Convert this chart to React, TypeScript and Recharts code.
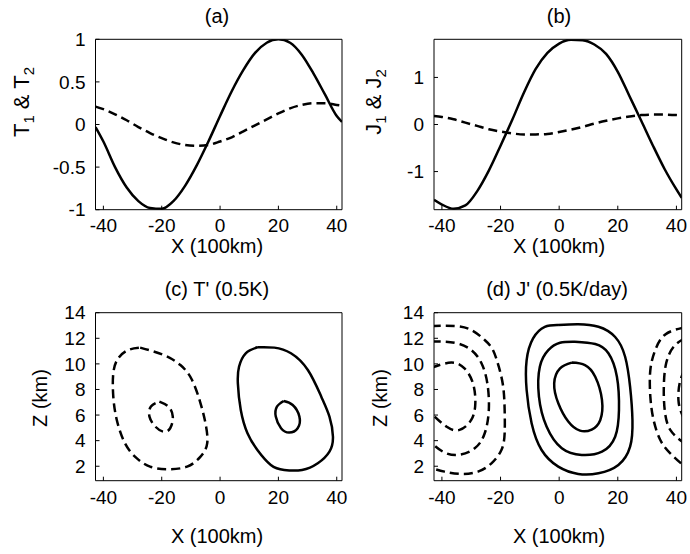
import React from 'react';
import { LineChart, Line, XAxis, YAxis } from 'recharts';

const FONT = '"Liberation Sans", Arial, Helvetica, sans-serif';

// ---------- shared axes ----------
const xTicks = [-40, -20, 0, 20, 40];
const xDomain: [number, number] = [-42.7, 41.8];
const tTicks = [-1, -0.5, 0, 0.5, 1];
const jTicks = [-1, 0, 1];
const zTicks = [2, 4, 6, 8, 10, 12, 14];

// ---------- panel (a) & (b) line data ----------
const xLine = [-42.7, -40, -36, -32, -28, -24, -20, -16, -12, -8, -4, 0, 4, 8, 12, 16, 20, 24, 28, 32, 36, 40, 41.8];
const t1 = [-0.03, -0.2, -0.5, -0.74, -0.9, -0.98, -0.99, -0.9, -0.72, -0.48, -0.2, 0.1, 0.39, 0.64, 0.84, 0.96, 1.0, 0.96, 0.82, 0.6, 0.35, 0.1, 0.03];
const t2 = [0.21, 0.18, 0.12, 0.05, -0.03, -0.1, -0.16, -0.21, -0.24, -0.25, -0.24, -0.2, -0.15, -0.08, -0.01, 0.06, 0.13, 0.19, 0.23, 0.25, 0.25, 0.23, 0.22];
const j1 = [-1.6, -1.7, -1.79, -1.72, -1.42, -0.98, -0.45, 0.1, 0.68, 1.18, 1.52, 1.72, 1.8, 1.79, 1.7, 1.5, 1.12, 0.6, 0.08, -0.45, -0.95, -1.38, -1.56];
const j2 = [0.18, 0.16, 0.11, 0.04, -0.03, -0.1, -0.15, -0.19, -0.21, -0.21, -0.2, -0.16, -0.11, -0.05, 0.02, 0.08, 0.13, 0.17, 0.2, 0.21, 0.21, 0.2, 0.19];

// ---------- panel (c) contours: [x, z] ----------
type P = [number, number];
const cNegOuter: P[] = [
  [-27.4, 11.27], [-19.4, 10.7], [-13.6, 9.91], [-9.6, 8.74], [-6.7, 6.92], [-5.0, 5.36], [-4.4, 3.8],
  [-6.7, 2.75], [-11.3, 1.97], [-18.2, 1.77], [-24, 1.97], [-28.6, 2.63], [-32.6, 3.8], [-35.4, 5.62],
  [-36.6, 7.44], [-36.6, 9.27], [-34.9, 10.44], [-31.4, 11.09], [-27.4, 11.27],
];
const cNegInner: P[] = [
  [-20.8, 7.05], [-17.7, 6.66], [-16.2, 5.88], [-17.1, 4.97], [-19.4, 4.7], [-22.2, 5.1], [-24.2, 5.88],
  [-23.7, 6.66], [-20.8, 7.05],
];
const cPosOuter: P[] = [
  [12.8, 11.3], [18.6, 11.27], [24.3, 10.83], [30.1, 9.52], [34.7, 7.44], [37.5, 5.88], [38.7, 4.31],
  [37.5, 3.14], [33.5, 2.23], [28.1, 1.71], [22.0, 1.71], [17.4, 2.1], [12.8, 3.27], [9.4, 4.58], [7.1, 6.4],
  [6.1, 8.48], [6.5, 9.78], [8.8, 10.83], [12.8, 11.3],
];
const cPosInner: P[] = [
  [21.8, 7.1], [24.9, 6.79], [27.2, 5.88], [26.6, 4.97], [23.7, 4.63], [20.9, 4.97], [19.1, 5.88],
  [19.5, 6.66], [21.8, 7.1],
];

// ---------- panel (d) contours: [x, z] ----------
const dPosOuter: P[] = [
  [-0.3, 13.04], [6.5, 13.1], [13.4, 12.9], [19.1, 12.1], [22.5, 10.56], [24.2, 8.2], [25.0, 5.6], [24.2, 3.53],
  [20.2, 2.1], [13.4, 1.45], [6.5, 1.4], [-0.3, 1.97], [-6.0, 3.27], [-9.4, 5.36], [-11.1, 7.96], [-11.1, 10.3],
  [-8.9, 12.0], [-4.9, 12.9], [-0.3, 13.04],
];
const dPosMiddle: P[] = [
  [5.4, 11.73], [12.3, 11.55], [16.8, 10.83], [19.7, 9.0], [20.4, 6.4], [19.1, 4.31], [14.6, 3.14], [7.7, 2.88],
  [0.9, 3.4], [-4.3, 5.1], [-6.9, 7.44], [-6.6, 9.78], [-3.7, 11.08], [0.3, 11.65], [5.4, 11.73],
];
const dPosInner: P[] = [
  [4.3, 10.1], [8.8, 9.91], [12.3, 9.0], [14.6, 7.18], [14.0, 5.6], [11.1, 4.87], [7.1, 4.78], [3.1, 5.49],
  [-0.3, 6.92], [-1.7, 8.48], [0.3, 9.65], [4.3, 10.1],
];
const dNegLeftOuter: P[] = [
  [-43.5, 12.96], [-35.7, 12.96], [-30.0, 12.65], [-25.4, 11.87], [-22.6, 11.09], [-20.6, 9.78], [-19.1, 8.22],
  [-18.6, 6.4], [-18.6, 4.58], [-19.7, 3.27], [-23.1, 2.23], [-27.7, 1.58], [-33.4, 1.4], [-39.1, 1.58], [-43.5, 1.85],
];
const dNegLeftMiddle: P[] = [
  [-43.5, 11.75], [-35.7, 11.65], [-30.0, 11.09], [-26.5, 10.05], [-24.5, 8.48], [-24.0, 6.4], [-25.4, 4.58],
  [-28.8, 3.4], [-34.6, 2.88], [-39.7, 3.14], [-43.5, 3.8],
];
const dNegLeftInner: P[] = [
  [-43.5, 9.7], [-36.8, 10.1], [-32.3, 9.65], [-29.4, 8.48], [-28.6, 6.92], [-30.0, 5.62], [-34.0, 4.84],
  [-38.5, 5.1], [-43.5, 6.1],
];
const dNegRightOuter: P[] = [
  [42.8, 12.86], [36.2, 12.3], [32.8, 11.09], [31.1, 9.52], [31.1, 7.44], [32.2, 5.62], [34.5, 4.05], [37.9, 3.01],
  [42.8, 1.97],
];
const dNegRightMiddle: P[] = [
  [42.8, 12.0], [39.1, 11.35], [36.5, 10.05], [35.7, 8.22], [36.0, 6.4], [37.9, 4.84], [42.8, 3.79],
];
const dNegRightInner: P[] = [
  [42.8, 9.52], [41.1, 8.48], [40.8, 6.92], [42.8, 5.62],
];

const lineRows = xLine.map((x, i) => ({ x, t1: t1[i], t2: t2[i], j1: j1[i], j2: j2[i] }));
const pts = (c: P[]) => c.map(([x, z]) => ({ x, z }));

const TICK_FONT = 19;
const LW = 2.5;
const DASH = '9 5';

function axes(yDomain: [number, number], yTicks: number[], xMargin: number) {
  const common = { stroke: '#000', strokeWidth: 1 };
  return [
    <XAxis key="xb" xAxisId="b" type="number" dataKey="x" domain={xDomain} ticks={xTicks} allowDataOverflow
      height={1} tickSize={-4} tickMargin={xMargin} axisLine={common} tickLine={common}
      tick={{ fontSize: TICK_FONT, fill: '#000', fontFamily: FONT }} interval={0} />,
    <XAxis key="xt" xAxisId="t" orientation="top" type="number" dataKey="x" domain={xDomain} ticks={xTicks}
      allowDataOverflow height={1} tickSize={-4} axisLine={common} tickLine={common} tick={false} interval={0} />,
    <YAxis key="yl" yAxisId="l" type="number" domain={yDomain} ticks={yTicks} allowDataOverflow width={1}
      tickSize={-4} tickMargin={14} axisLine={common} tickLine={common}
      tick={{ fontSize: TICK_FONT, fill: '#000', fontFamily: FONT }} interval={0} />,
    <YAxis key="yr" yAxisId="r" orientation="right" type="number" domain={yDomain} ticks={yTicks} allowDataOverflow
      width={1} tickSize={-4} axisLine={common} tickLine={common} tick={false} interval={0} />,
  ];
}

function series(key: string, data: any[] | null, dataKey: string, dashed: boolean, curve: any) {
  const extra: any = data ? { data } : {};
  return (
    <Line key={key} {...extra} xAxisId="b" yAxisId="l" type={curve} dataKey={dataKey} stroke="#000"
      strokeWidth={LW} strokeDasharray={dashed ? DASH : undefined} dot={false} activeDot={false}
      isAnimationActive={false} connectNulls />
  );
}

const WL = 372; // left column charts (wide enough for the right-most tick label)
const WR = 345;
const H = 277;

export default function App() {
  const yDomZ: [number, number] = [0.87, 14];
  return (
    <div style={{ position: 'absolute', left: 0, top: 0, width: 690, height: 554, background: '#fff', fontFamily: FONT }}>
      <div style={{ position: 'absolute', left: 0, top: 0 }}>
        <LineChart width={WL} height={H} data={lineRows} margin={{ top: 38.3, left: 94.5, right: 29, bottom: 66.3 }}>
          {axes([-1, 1], tTicks, 13)}
          {series('t1', null, 't1', false, 'monotone')}
          {series('t2', null, 't2', true, 'monotone')}
        </LineChart>
      </div>
      <div style={{ position: 'absolute', left: 345, top: 0 }}>
        <LineChart width={WR} height={H} data={lineRows} margin={{ top: 38.3, left: 88, right: 7.3, bottom: 66.3 }}>
          {axes([-1.81, 1.81], jTicks, 13)}
          {series('j1', null, 'j1', false, 'monotone')}
          {series('j2', null, 'j2', true, 'monotone')}
        </LineChart>
      </div>
      <div style={{ position: 'absolute', left: 0, top: 277 }}>
        <LineChart width={WL} height={H} margin={{ top: 34.7, left: 94.5, right: 29, bottom: 72.3 }}>
          {axes(yDomZ, zTicks, 14)}
          {series('cno', pts(cNegOuter), 'z', true, 'natural')}
          {series('cni', pts(cNegInner), 'z', true, 'natural')}
          {series('cpo', pts(cPosOuter), 'z', false, 'natural')}
          {series('cpi', pts(cPosInner), 'z', false, 'natural')}
        </LineChart>
      </div>
      <div style={{ position: 'absolute', left: 345, top: 277 }}>
        <LineChart width={WR} height={H} margin={{ top: 34.7, left: 88, right: 7.3, bottom: 72.3 }}>
          {axes(yDomZ, zTicks, 14)}
          {series('dpo', pts(dPosOuter), 'z', false, 'natural')}
          {series('dpm', pts(dPosMiddle), 'z', false, 'natural')}
          {series('dpi', pts(dPosInner), 'z', false, 'natural')}
          {series('dlo', pts(dNegLeftOuter), 'z', true, 'natural')}
          {series('dlm', pts(dNegLeftMiddle), 'z', true, 'natural')}
          {series('dli', pts(dNegLeftInner), 'z', true, 'natural')}
          {series('dro', pts(dNegRightOuter), 'z', true, 'natural')}
          {series('drm', pts(dNegRightMiddle), 'z', true, 'natural')}
          {series('dri', pts(dNegRightInner), 'z', true, 'natural')}
        </LineChart>
      </div>
      <svg width={690} height={554} style={{ position: 'absolute', left: 0, top: 0, pointerEvents: 'none' }}
        fontFamily={FONT} fill="#000">
        <text x={217} y={23} fontSize={20} textAnchor="middle">(a)</text>
        <text x={559} y={23} fontSize={20} textAnchor="middle">(b)</text>
        <text x={217} y={253} fontSize={20} textAnchor="middle">X (100km)</text>
        <text x={559} y={253} fontSize={20} textAnchor="middle">X (100km)</text>
        <text x={217} y={296} fontSize={20} textAnchor="middle">(c) T' (0.5K)</text>
        <text x={557} y={296} fontSize={20} textAnchor="middle">(d) J' (0.5K/day)</text>
        <text x={217} y={543} fontSize={20} textAnchor="middle">X (100km)</text>
        <text x={559} y={543} fontSize={20} textAnchor="middle">X (100km)</text>
        <text transform="translate(29,102) rotate(-90)" fontSize={22} textAnchor="middle">
          T<tspan fontSize={15} dy={5}>1</tspan><tspan dy={-5}> &amp; T</tspan><tspan fontSize={15} dy={5}>2</tspan>
        </text>
        <text transform="translate(381,102) rotate(-90)" fontSize={22} textAnchor="middle">
          J<tspan fontSize={15} dy={5}>1</tspan><tspan dy={-5}> &amp; J</tspan><tspan fontSize={15} dy={5}>2</tspan>
        </text>
        <text transform="translate(47,398) rotate(-90)" fontSize={20} textAnchor="middle">Z (km)</text>
        <text transform="translate(387,398) rotate(-90)" fontSize={20} textAnchor="middle">Z (km)</text>
      </svg>
    </div>
  );
}
